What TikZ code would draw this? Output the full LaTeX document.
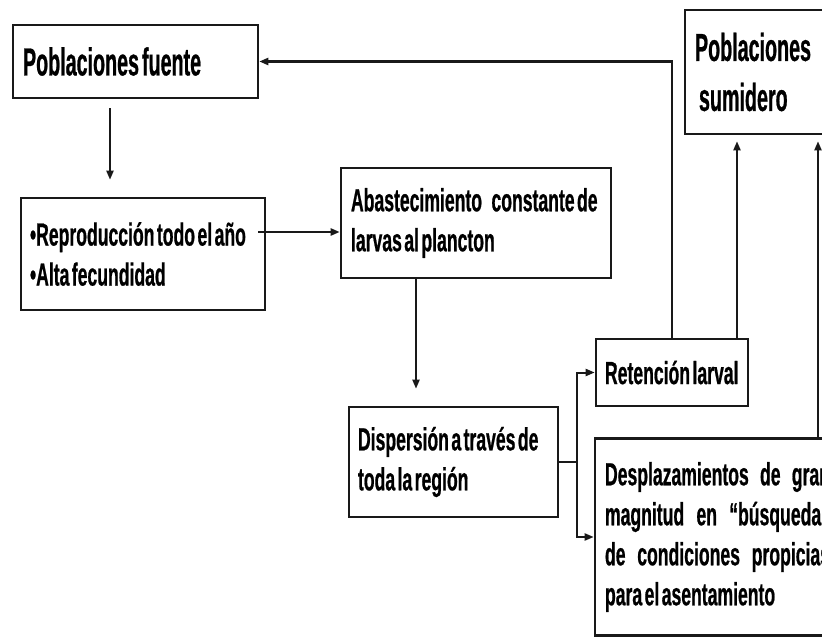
\documentclass[tikz,border=0pt]{standalone}
\usepackage{fontspec}
\setmainfont{Liberation Sans}
\newfontfamily\smfont{Liberation Sans}[FakeStretch=0.55, WordSpace=0.5, FakeBold=0.6]
\newfontfamily\bgfont{Liberation Sans}[FakeStretch=0.505, WordSpace=0.55, FakeBold=0.6]
\usetikzlibrary{arrows.meta}
\setlength{\parindent}{0pt}
\hyphenpenalty=10000
\exhyphenpenalty=10000
\tikzset{
  box/.style={draw=black!90, line width=2.6pt, rectangle, inner ysep=0pt, anchor=center, align=justify},
  smtext/.style={font=\smfont\bfseries\fontsize{32}{40}\selectfont},
  bgtext/.style={font=\bgfont\bfseries\fontsize{39}{50}\selectfont},
  conn/.style={draw=black!90, line width=2pt},
  arr/.style={conn, -{Triangle[length=9pt,width=7pt]}},
}
\begin{document}
\begin{tikzpicture}[x=1pt,y=-1pt]
\useasboundingbox (0,0) rectangle (822,639);
\fill[white] (0,0) rectangle (822,639);
\clip (0,0) rectangle (822,639);
% boxes
\node[box, bgtext, minimum width=245pt, minimum height=73pt, inner xsep=10pt, text width=225pt] (pf) at (135.5,61.5) {Poblaciones fuente};
\node[box, smtext, minimum width=244pt, minimum height=112pt, inner xsep=9pt, text width=226pt] (repro) at (143,254) {•Reproducción todo el año\\•Alta fecundidad};
\node[box, smtext, minimum width=268pt, minimum height=110pt, inner xsep=10pt, text width=250pt] (abast) at (476,223) {Abastecimiento\hspace{7pt} constante de\\larvas al plancton};
\node[box, smtext, minimum width=209pt, minimum height=110pt, inner xsep=9pt, text width=191pt] (disp) at (453.5,462) {Dispersión a través de\\toda la región};
\node[box, smtext, minimum width=152pt, minimum height=67pt, inner xsep=9pt, text width=134pt] (ret) at (672,372.5) {\mbox{Retención larval}};
\node[box, smtext, minimum width=245pt, minimum height=197pt, inner xsep=10pt, text width=225pt] (desp) at (717.5,537) {Desplazamientos de gran\linebreak magnitud en “búsqueda”\linebreak de condiciones propicias\linebreak para el asentamiento};
\node[box, bgtext, minimum width=155pt, minimum height=124pt, inner xsep=10pt, text width=135pt] (sum) at (762.5,72) {Poblaciones\\\hspace*{4pt}sumidero};
% helper coordinates
\coordinate (c1) at (110,0);
\coordinate (c2) at (258,232);
\coordinate (c3) at (416,0);
\coordinate (c4) at (577,0);
\coordinate (c6) at (737,0);
\coordinate (c7) at (818,0);
\coordinate (j) at (disp.east -| c4);
% connectors
\draw[arr, shorten <=9pt, shorten >=17pt] (pf.south -| c1) -- (repro.north -| c1);
\draw[arr, line width=2.6pt] (c2) -- (c2 -| abast.west);
\draw[arr, shorten >=17pt] (abast.south -| c3) -- (disp.north -| c3);
\draw[conn] (disp.east) -- (j);
\draw[arr] (j) |- (ret.west);
\draw[arr] (j) |- (desp.west);
\draw[arr, line width=2.4pt] (ret.north) |- (pf.east);
\draw[arr, shorten >=6pt] (ret.north -| c6) -- (sum.south -| c6);
\draw[arr, shorten >=6pt] (desp.north -| c7) -- (sum.south -| c7);
\end{tikzpicture}
\end{document}
